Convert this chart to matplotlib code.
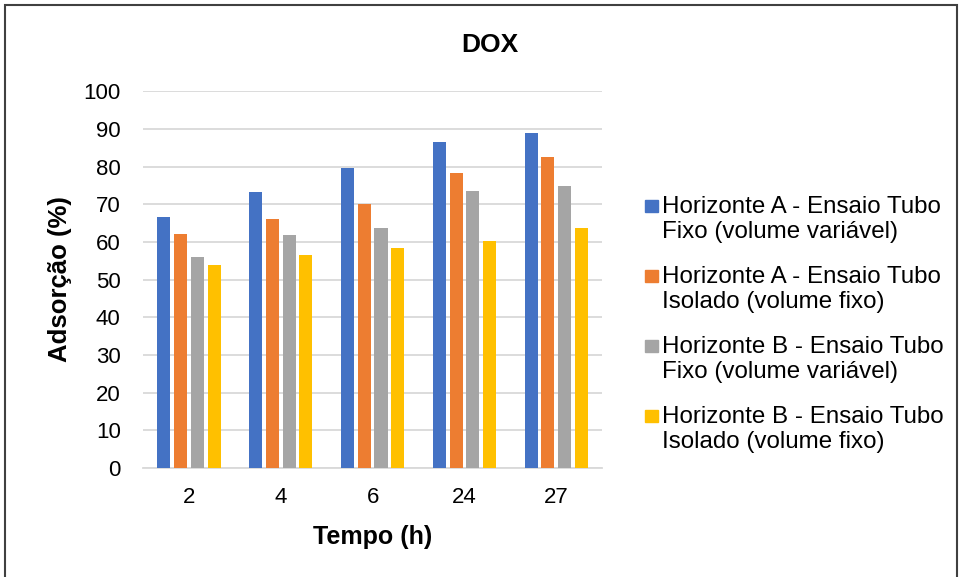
import matplotlib
matplotlib.use('Agg')
import matplotlib.pyplot as plt
import numpy as np
from matplotlib.patches import Rectangle

plt.rcParams['font.family'] = ['Liberation Sans', 'DejaVu Sans']

# Tempo de contato (h)
tempos = ['2', '4', '6', '24', '27']

# Adsorção de DOX (%) para cada ensaio
hA_fixo = [66.6, 73.2, 79.5, 86.4, 88.9]
hA_isolado = [62.0, 66.2, 70.0, 78.2, 82.5]
hB_fixo = [56.0, 61.7, 63.7, 73.5, 74.9]
hB_isolado = [53.8, 56.4, 58.4, 60.2, 63.8]

series_labels = [
    'Horizonte A - Ensaio Tubo\nFixo (volume variável)',
    'Horizonte A - Ensaio Tubo\nIsolado (volume fixo)',
    'Horizonte B - Ensaio Tubo\nFixo (volume variável)',
    'Horizonte B - Ensaio Tubo\nIsolado (volume fixo)',
]
series_values = [hA_fixo, hA_isolado, hB_fixo, hB_isolado]
colors = ['#4472C4', '#ED7D31', '#A5A5A5', '#FFC000']

fig = plt.figure(figsize=(9.59, 5.77), dpi=100)
ax = fig.add_axes([0.149, 0.189, 0.479, 0.653])

x = np.arange(len(tempos))
step = 0.183
width = 0.142
for i, (vals, col) in enumerate(zip(series_values, colors)):
    ax.bar(x + (i - 1.5) * step, vals, width=width, color=col, zorder=3)

ax.set_xlim(-0.5, len(tempos) - 0.5)
ax.set_ylim(0, 100)
ax.set_yticks(range(0, 101, 10))
ax.set_xticks(x)
ax.set_xticklabels(tempos)
ax.tick_params(axis='both', length=0, labelsize=16)
ax.tick_params(axis='x', pad=14)
ax.tick_params(axis='y', pad=16)

ax.yaxis.grid(True, color='#D9D9D9', linewidth=1.3, zorder=0)
for side in ['top', 'right', 'left']:
    ax.spines[side].set_visible(False)
ax.spines['bottom'].set_color('#D9D9D9')
ax.spines['bottom'].set_linewidth(1.3)

ax.set_xlabel('Tempo (h)', fontsize=18, fontweight='bold', labelpad=12)
ax.set_ylabel('Adsorção (%)', fontsize=18.5, fontweight='bold', labelpad=8)
fig.text(0.511, 0.922, 'DOX', ha='center', va='center',
         fontsize=19, fontweight='bold')

# Legenda desenhada à direita do gráfico
for i, (lab, col) in enumerate(zip(series_labels, colors)):
    yc = 1 - (206 + 70 * i) / 577
    fig.patches.append(Rectangle((645 / 959, yc - 6 / 577), 13 / 959, 12 / 577,
                                 color=col, transform=fig.transFigure))
    fig.text(662 / 959, yc + 10 / 577, lab, ha='left', va='top',
             fontsize=17.4, linespacing=1.15)

# Moldura do gráfico
fig.patches.append(Rectangle((5 / 959, -0.02), 952 / 959, 1.02 - 5 / 577,
                             fill=False, edgecolor='#404040', linewidth=1.5,
                             transform=fig.transFigure))

fig.savefig('out.png', dpi=100)
